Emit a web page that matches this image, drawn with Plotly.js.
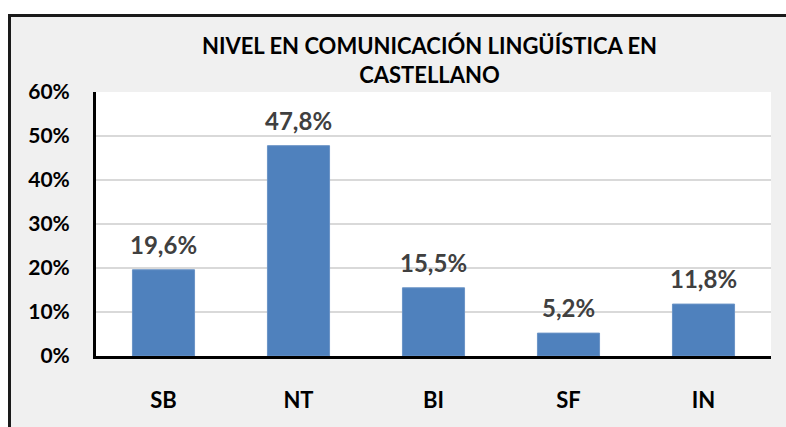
<!DOCTYPE html>
<html>
<head>
<meta charset="utf-8">
<script src="https://cdn.plot.ly/plotly-3.0.1.min.js"></script>
<style>
  html, body { margin: 0; padding: 0; background: #fff; overflow: hidden; width: 786px; height: 427px; }
  #frame {
    position: absolute; left: 8px; top: 14px;
    width: 775px; height: 410px; overflow: hidden;
    border-top: 3px solid #1a1a1a; border-left: 3px solid #1a1a1a;
    background: #f0f0f0;
  }
  #chart { position: absolute; left: 0; top: 0; width: 775px; height: 410px; }
</style>
</head>
<body>
<div id="frame"><div id="chart"></div></div>
<script>
// niveles de competencia
const categories = ['SB', 'NT', 'BI', 'SF', 'IN'];
const percentages = [0.196, 0.478, 0.155, 0.052, 0.118];
const yTicks = [0, 0.1, 0.2, 0.3, 0.4, 0.5, 0.6];

const fmt = v => (v * 100).toFixed(1).replace('.', ',') + '%';

const trace = {
    type: 'bar',
    x: categories,
    y: percentages,
    width: 0.46,
    marker: {color: '#4f81bd', line: {color: '#6a93c6', width: 1}},
    hoverinfo: 'none'
};

const labels = categories.map((c, i) => ({
    x: c,
    y: percentages[i],
    xref: 'x', yref: 'y',
    text: fmt(percentages[i]),
    showarrow: false,
    yanchor: 'bottom',
    yshift: 9,
    font: {family: 'Lato', size: 24, weight: 'bold', color: '#404040'}
}));

const layout = {
    width: 775,
    height: 410,
    margin: {l: 85, r: 15, t: 75, b: 71},
    paper_bgcolor: '#f0f0f0',
    plot_bgcolor: '#ffffff',
    showlegend: false,
    title: {
        text: 'NIVEL EN COMUNICACIÓN LINGÜÍSTICA EN<br>CASTELLANO',
        font: {family: 'Lato', size: 22, weight: 'bold', color: '#000'},
        x: 0.54, xanchor: 'center',
        y: 0.91, yanchor: 'top'
    },
    xaxis: {
        type: 'category',
        showline: true, linecolor: '#000', linewidth: 3,
        ticks: '',
        ticklabelstandoff: 23,
        tickfont: {family: 'Lato', size: 22, weight: 'bold', color: '#000'},
        fixedrange: true
    },
    yaxis: {
        range: [0, 0.6],
        tickvals: yTicks,
        tickformat: '.0%',
        showline: true, linecolor: '#000', linewidth: 3,
        showgrid: true, gridcolor: '#d9d9d9', gridwidth: 1.5,
        zeroline: false,
        ticks: '',
        ticklabelstandoff: 19,
        tickfont: {family: 'Lato', size: 21, weight: 'bold', color: '#000'},
        fixedrange: true
    },
    annotations: labels
};

Plotly.newPlot('chart', [trace], layout, {displayModeBar: false, staticPlot: true});
</script>
</body>
</html>
